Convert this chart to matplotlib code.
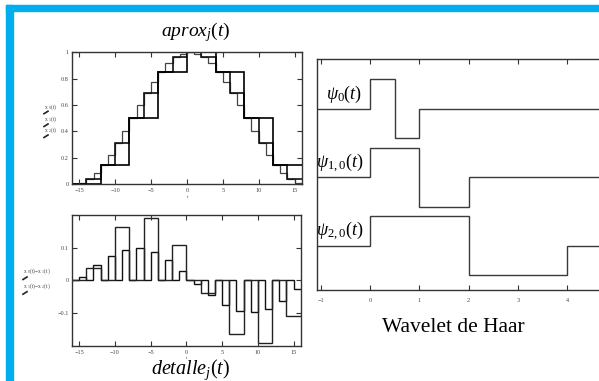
import numpy as np
import matplotlib
matplotlib.use("Agg")
import matplotlib.pyplot as plt
from matplotlib.patches import Rectangle
from matplotlib.lines import Line2D

plt.rcParams["mathtext.fontset"] = "custom"
plt.rcParams["mathtext.rm"] = "Liberation Serif"
plt.rcParams["mathtext.it"] = "Liberation Serif:italic"
plt.rcParams["mathtext.bf"] = "Liberation Serif:bold"
plt.rcParams["mathtext.fallback"] = "stix"
plt.rcParams["font.family"] = ["Liberation Serif", "DejaVu Serif"]

# ---- data ---------------------------------------------------------------
# signal samples on t = -16 ... 15 (one value per unit interval)
t_samples = list(range(-16, 16))
x0_values = [0.000, 0.010, 0.038, 0.084, 0.146, 0.222, 0.309, 0.402,
             0.500, 0.598, 0.691, 0.778, 0.854, 0.916, 0.962, 0.990,
             1.000, 0.990, 0.962, 0.916, 0.854, 0.778, 0.691, 0.598,
             0.500, 0.402, 0.309, 0.222, 0.146, 0.084, 0.038, 0.010]

left_xticks = [-15, -10, -5, 0, 5, 10, 15]
aprox_yticks = [0, 0.2, 0.4, 0.6, 0.8, 1]
aprox_yticklabels = ["0", "0.2", "0.4", "0.6", "0.8", "1"]
det_yticks = [-0.1, 0, 0.1]
det_yticklabels = ["\u22120.1", "0", "0.1"]

# Haar wavelets: breakpoints and levels
haar_t0 = [-1.08, 0, 0.5, 1, 4.7]
haar_t1 = [-1.08, 0, 1, 2, 4.7]
haar_t2 = [-1.08, 0, 2, 4, 4.7]
haar_levels = [0, 1, -1, 0]
haar_offsets = [0.0, -2.31, -4.64]
haar_labels = [r"$\mathit{\psi_{0}(t)}$", r"$\mathit{\psi_{1,0}(t)}$", r"$\mathit{\psi_{2,0}(t)}$"]
haar_xticks = [-1, 0, 1, 2, 3, 4]

# ---- derived approximations (sample-and-hold) and details ---------------
x0 = np.array(x0_values)
edges = np.append(np.array(t_samples, dtype=float), t_samples[-1] + 1)
x1 = np.repeat(x0[::2], 2)
x2 = np.repeat(x0[::4], 4)
d01 = x0 - x1
d12 = x1 - x2

W, H = 599, 381
fig = plt.figure(figsize=(W / 100, H / 100), dpi=100)

def fx(px):
    return px / W

def fy(py):
    return (H - py) / H

# blue frame
blue = "#00AEEF"
fig.patches.append(Rectangle((fx(6), fy(11)), fx(W - 6), fy(5) - fy(11),
                             transform=fig.transFigure, color=blue, zorder=0))
fig.patches.append(Rectangle((fx(6), 0), fx(7), fy(5),
                             transform=fig.transFigure, color=blue, zorder=0))

tick_fs = 4.5
spine_col = "#333333"

def style_axes(ax, xpad=3, ypad=2):
    for s in ax.spines.values():
        s.set_color(spine_col)
        s.set_linewidth(1.0)
    ax.tick_params(direction="in", length=3.5, width=0.8, color=spine_col,
                   labelsize=tick_fs, top=True, right=True, labelcolor="#444444")
    ax.tick_params(axis="x", pad=xpad)
    ax.tick_params(axis="y", pad=ypad)

# ---- approximations ------------------------------------------------------
ax1 = fig.add_axes([fx(71.7), fy(184), fx(301.7) - fx(71.7), fy(52.3) - fy(184)])
ax1.stairs(x0, edges, baseline=None, color="#444444", lw=0.9)
ax1.stairs(x1, edges, baseline=None, color="#111111", lw=1.2)
ax1.stairs(x2, edges, baseline=None, color="#000000", lw=1.2)
ax1.set_xlim(-16.05, 16)
ax1.set_ylim(0, 1)
ax1.set_xticks(left_xticks)
ax1.set_yticks(aprox_yticks)
ax1.set_yticklabels(aprox_yticklabels)
style_axes(ax1)
fig.text(fx(187.7), fy(197), "t", fontsize=3.5, ha="center", va="center", color="#444444")

# ---- details -------------------------------------------------------------
ax2 = fig.add_axes([fx(71.7), fy(345.7), fx(300.7) - fx(71.7), fy(215) - fy(345.7)])
ax2.stairs(d01, edges, baseline=None, color="#111111", lw=1.0)
ax2.stairs(d12, edges, baseline=None, color="#222222", lw=1.0)
ax2.set_xlim(-16.05, 16)
ax2.set_ylim(-0.2, 0.2)
ax2.set_xticks(left_xticks)
ax2.set_yticks(det_yticks)
ax2.set_yticklabels(det_yticklabels)
style_axes(ax2)
fig.text(fx(187), fy(358), "t", fontsize=3.5, ha="center", va="center", color="#444444")

# stacked axis annotations
def stroke(px, py):
    fig.add_artist(Line2D([fx(px), fx(px + 4)], [fy(py + 1.5), fy(py - 1)],
                          transform=fig.transFigure, color="#222222", lw=1.2))

for lbl, py in [(r"x $_0$(t)", 106.7), (r"x $_1$(t)", 119.5), (r"x $_2$(t)", 130.5)]:
    fig.text(fx(44), fy(py), lbl, fontsize=4, ha="left", va="center", color="#444444")
    stroke(44, py + 5.5)

for lbl, py in [(r"x $_0$(t)$-$x $_1$(t)", 271), (r"x $_1$(t)$-$x $_2$(t)", 285.7)]:
    fig.text(fx(23), fy(py), lbl, fontsize=4, ha="left", va="center", color="#444444")
    stroke(23, py + 7)

fig.text(fx(196), fy(36), r"$\mathit{aprox_{j}(t)}$", fontsize=14, ha="center", va="baseline")
fig.text(fx(191), fy(373.5), r"$\mathit{detalle_{j}(t)}$", fontsize=14.5, ha="center", va="baseline")

# ---- Haar wavelets -------------------------------------------------------
ax3 = fig.add_axes([fx(316.7), fy(290), fx(601.7) - fx(316.7), fy(59) - fy(290)])
for tb, off in zip([haar_t0, haar_t1, haar_t2], haar_offsets):
    ax3.stairs(np.array(haar_levels) + off, tb, baseline=None, color="#3a3a3a", lw=1.0)
ax3.set_xlim(-1.08, 4.7)
ax3.set_ylim(-6.14, 1.69)
ax3.set_xticks(haar_xticks)
ax3.set_yticks([])
style_axes(ax3, xpad=6)
ax3.spines["right"].set_visible(False)

for lbl, off, xc in zip(haar_labels, haar_offsets, [-0.52, -0.61, -0.61]):
    ax3.text(xc, off + 0.5, lbl, fontsize=13, ha="center", va="center")

fig.text(fx(453), fy(327), "Wavelet de Haar", fontsize=15.5, ha="center", va="center",
         family="Liberation Serif")

fig.savefig("out.png", dpi=100)
